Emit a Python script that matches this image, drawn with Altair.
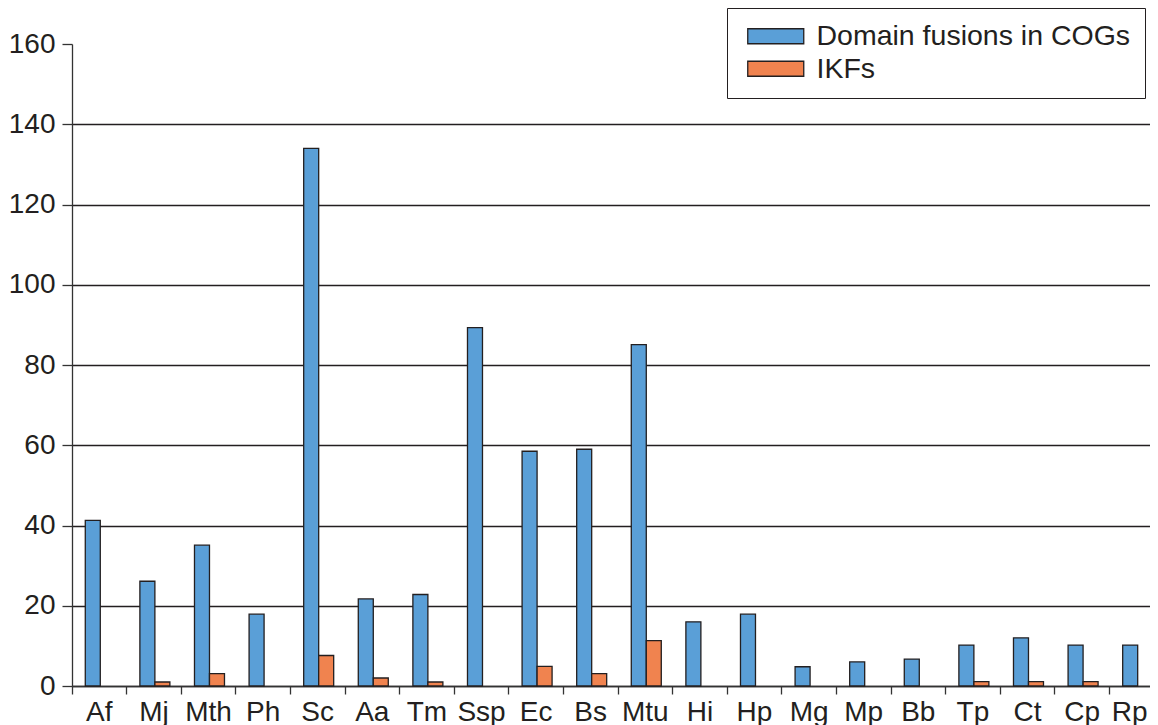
import altair as alt
import pandas as pd

organisms = ["Af", "Mj", "Mth", "Ph", "Sc", "Aa", "Tm", "Ssp", "Ec", "Bs",
             "Mtu", "Hi", "Hp", "Mg", "Mp", "Bb", "Tp", "Ct", "Cp", "Rp"]
domain_fusions = [41.3, 26.1, 35.1, 17.9, 134.0, 21.7, 22.8, 89.3, 58.5, 59.0,
                  85.1, 16.0, 17.9, 4.8, 6.0, 6.7, 10.2, 12.0, 10.2, 10.2]
ikfs = [0, 1.0, 3.1, 0, 7.6, 2.0, 1.0, 0, 4.9, 3.1,
        11.3, 0, 0, 0, 0, 0, 1.1, 1.1, 1.1, 0]
series = ["Domain fusions in COGs", "IKFs"]
colors = ["#5A9FD7", "#F0834F"]
y_ticks = [0, 20, 40, 60, 80, 100, 120, 140, 160]

rows = []
for i, org in enumerate(organisms):
    rows.append({"organism": org, "series": series[0], "value": domain_fusions[i]})
    rows.append({"organism": org, "series": series[1], "value": ikfs[i]})
df = pd.DataFrame(rows)

FONT = "Liberation Sans"
INK = "#231F20"

chart = (
    alt.Chart(df)
    .transform_filter("datum.value > 0")
    .mark_bar(stroke=INK, strokeWidth=1.3, opacity=1)
    .encode(
        x=alt.X(
            "organism:N",
            sort=organisms,
            title=None,
            scale=alt.Scale(range=[0, 1092], paddingInner=0, paddingOuter=0),
            axis=alt.Axis(
                labelAngle=0,
                bandPosition=0,
                labelFontSize=28,
                labelFont=FONT,
                labelColor=INK,
                labelPadding=4,
                labelOffset=alt.condition("datum.value == 'Rp'", alt.value(-7), alt.value(0)),
                tickSize=8,
                tickWidth=1.3,
                tickColor="#333333",
                domainColor="#333333",
                domainWidth=1.3,
                grid=False,
            ),
        ),
        xOffset=alt.XOffset(
            "series:N",
            sort=series,
            scale=alt.Scale(paddingInner=0, paddingOuter=0.82, align=0.54),
        ),
        y=alt.Y(
            "value:Q",
            title=None,
            scale=alt.Scale(domain=[0, 160], nice=False),
            axis=alt.Axis(
                values=y_ticks,
                labelFontSize=28,
                labelFont=FONT,
                labelColor=INK,
                labelPadding=7,
                tickSize=10,
                tickWidth=1.3,
                tickColor="#333333",
                domainColor="#333333",
                domainWidth=1.3,
                grid=True,
                gridColor=INK,
                gridWidth=1.3,
                gridOpacity=alt.condition("datum.value == 160", alt.value(0), alt.value(1)),
            ),
        ),
        color=alt.Color(
            "series:N",
            sort=series,
            title=None,
            scale=alt.Scale(domain=series, range=colors),
            legend=alt.Legend(
                orient="none",
                legendX=655,
                legendY=-36,
                padding=14,
                strokeColor=INK,
                fillColor="white",
                labelFontSize=28.5,
                labelFont=FONT,
                labelColor=INK,
                labelOffset=47,
                labelLimit=500,
                symbolType="M-1,-1L6.467,-1L6.467,1L-1,1Z",
                symbolSize=225,
                symbolStrokeColor=INK,
                symbolStrokeWidth=1.3,
                symbolOpacity=1,
                rowPadding=3.5,
            ),
        ),
    )
    .properties(
        width=1078,
        height=642,
        autosize=alt.AutoSizeParams(type="none"),
        padding={"left": 64, "top": 36, "right": 0, "bottom": 39},
    )
    .configure_view(strokeWidth=0)
)

chart.save("out.html", embed_options={"renderer": "svg", "actions": False})
